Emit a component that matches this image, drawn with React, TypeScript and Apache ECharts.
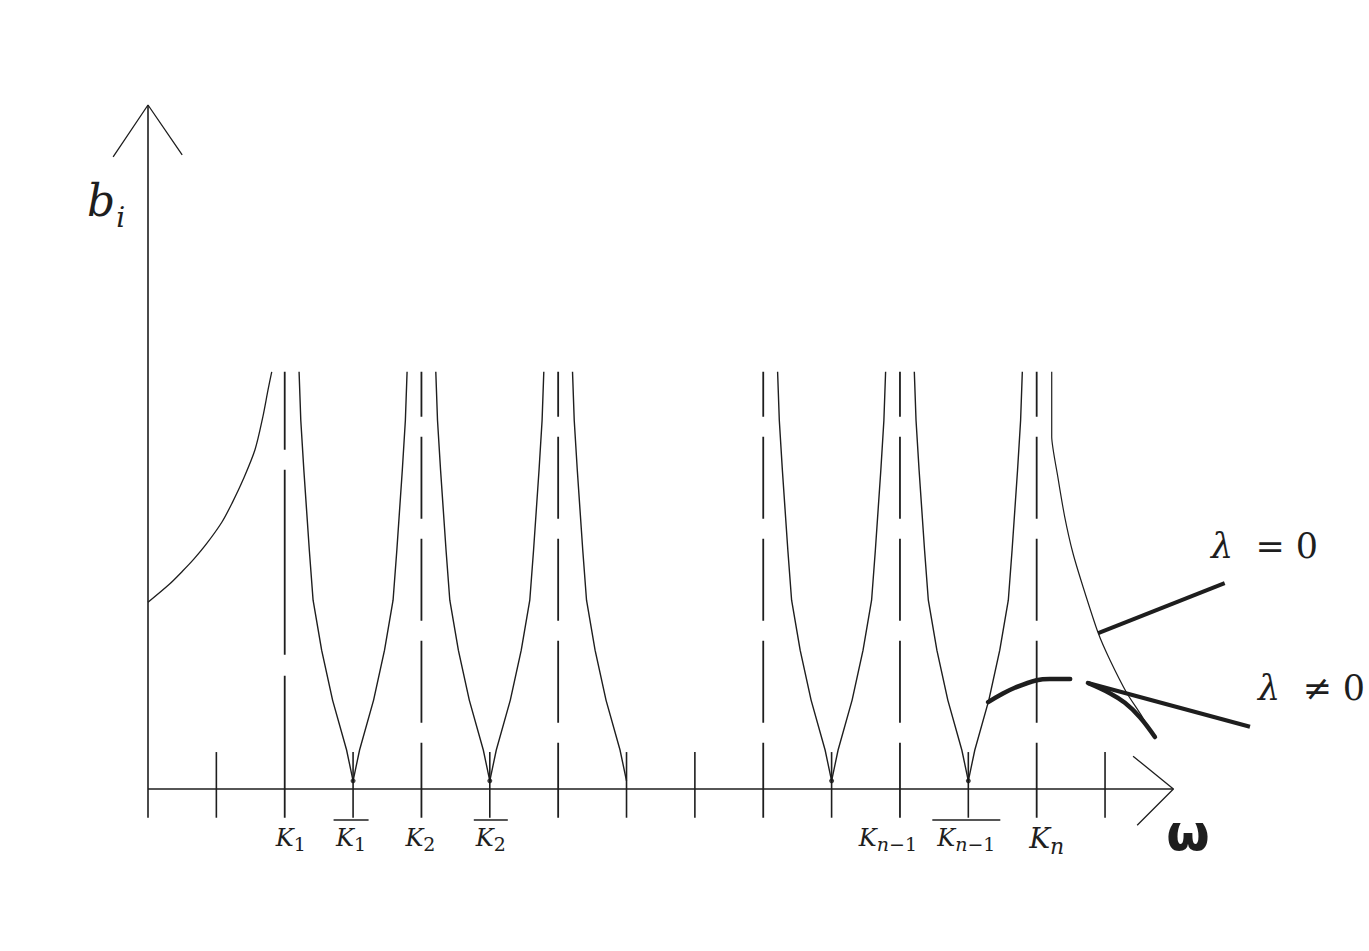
import React, { useEffect, useRef } from "react";
import * as echarts from "echarts";

// ---------- data (in axis units: 1 unit = one tick spacing) ----------
const asymptotes = [2, 4, 6, 9, 11, 13];
const plainTicks = [1, 3, 5, 7, 8, 10, 12, 14];
const cuspBoth = [3, 5, 10, 12];
const cuspLeftOnly = [7];
const cuspDots = [3, 5, 10, 12];
const cuspY = 0.12;
// shape of one cusp branch: heights and horizontal distance from the cusp
const branchHeights = [6.1, 5.39, 4.66, 3.49, 2.76, 2.03, 1.3, 0.57, 0.12];
const branchOffsets = [0.79, 0.765, 0.72, 0.64, 0.585, 0.46, 0.3, 0.095, 0];
const firstBranch = [
  [0, 2.73], [0.32, 3.0], [0.51, 3.19], [0.67, 3.36], [0.86, 3.59], [1.08, 3.9],
  [1.23, 4.18], [1.39, 4.52], [1.565, 4.96], [1.68, 5.44], [1.755, 5.83], [1.81, 6.1],
];
const lastBranch = [
  [13.22, 6.1], [13.22, 5.15], [13.31, 4.56], [13.41, 3.98], [13.53, 3.45], [13.68, 2.95],
  [13.9, 2.28], [14.07, 1.89], [14.32, 1.4], [14.51, 1.11], [14.63, 0.91],
];
const perturbedA = [[12.29, 1.27], [12.46, 1.37], [12.68, 1.48], [13.0, 1.59], [13.19, 1.61], [13.49, 1.61]];
const perturbedB = [[13.75, 1.55], [14.07, 1.4], [14.29, 1.26], [14.51, 1.05], [14.73, 0.76]];
const pointerZero = [[13.9, 2.28], [15.75, 3.01]];
const pointerNonZero = [[13.75, 1.55], [16.12, 0.91]];
const yAxisLine = [[0, 10], [0, -0.42]];
const xAxisLine = [[0, 0], [15, 0]];
const yArrow = [[-0.51, 9.24], [0, 10], [0.5, 9.27]];
const xArrow = [[14.41, 0.48], [15, 0], [14.47, -0.53]];
const tickTop = 0.54;
const tickBottom = -0.42;
const asymTop = 6.1;

// labels
const kLabels = [
  { at: 2, base: "K", subItalic: "", sub: "1", bar: false, big: false },
  { at: 3, base: "K", subItalic: "", sub: "1", bar: true, big: false },
  { at: 4, base: "K", subItalic: "", sub: "2", bar: false, big: false },
  { at: 5, base: "K", subItalic: "", sub: "2", bar: true, big: false },
  { at: 11, base: "K", subItalic: "n", sub: "\u22121", bar: false, big: false },
  { at: 12, base: "K", subItalic: "n", sub: "\u22121", bar: true, big: false },
  { at: 13, base: "K", subItalic: "n", sub: "", bar: false, big: true },
];
const labelShift: Record<number, number> = { 2: 6, 3: -2, 4: -1, 5: 1, 11: -12, 12: -2, 13: 10 };
const barWidth: Record<number, number> = { 3: 35, 5: 34, 12: 68 };

// ---------- layout ----------
const X_MIN = -1, X_MAX = 16.5, Y_MIN = -2, Y_MAX = 10;
const UNIT_X = 68.36;
const G_LEFT = 148 - UNIT_X, G_TOP = 105, G_W = (X_MAX - X_MIN) * UNIT_X, G_H = 820.8;
const W = 1369, H = 951;
const px = (x: number) => G_LEFT + ((x - X_MIN) / (X_MAX - X_MIN)) * G_W;

const INK = "#1e1e1e";
const SERIF = "'DejaVu Serif', 'Liberation Serif', serif";

function line(data: any[], width = 1.6, extra: any = {}) {
  return {
    type: "line",
    data,
    symbol: "none",
    clip: false,
    silent: true,
    smooth: extra.smooth ?? false,
    lineStyle: {
      color: INK,
      width,
      type: extra.dash ?? "solid",
      dashOffset: extra.dashOffset ?? 0,
      cap: extra.cap ?? "butt",
    },
    z: extra.z ?? 2,
  };
}

export default function App() {
  const ref = useRef<HTMLDivElement>(null);
  useEffect(() => {
    if (!ref.current) return;
    const chart = echarts.init(ref.current, undefined, { renderer: "svg" });
    const series: any[] = [];

    series.push(line(yAxisLine));
    series.push(line(xAxisLine));
    series.push(line(yArrow, 1.3));
    series.push(line(xArrow, 1.3));
    plainTicks.forEach((t) => series.push(line([[t, tickTop], [t, tickBottom]])));
    asymptotes.forEach((a) =>
      series.push(
        a === 2
          ? line([[a, asymTop], [a, tickBottom]], 1.8, { dash: [78, 20, 185, 21, 300] })
          : line([[a, asymTop], [a, tickBottom]], 1.8, { dash: [82, 20], dashOffset: 37 })
      )
    );
    const leftBranch = (c: number) => branchHeights.map((h, i) => [c - branchOffsets[i], h]);
    const rightBranch = (c: number) => branchHeights.map((h, i) => [c + branchOffsets[i], h]);
    cuspBoth.forEach((c) => {
      series.push(line(leftBranch(c), 1.4));
      series.push(line(rightBranch(c), 1.4));
    });
    cuspLeftOnly.forEach((c) => series.push(line(leftBranch(c), 1.4)));
    series.push(line(firstBranch, 1.3, { smooth: 0.3 }));
    series.push(line(lastBranch, 1.2, { smooth: 0.2 }));
    series.push(line(perturbedA, 4.5, { smooth: 0.4, cap: "round", z: 4 }));
    series.push(line(perturbedB, 4.5, { smooth: 0.4, cap: "round", z: 4 }));
    series.push(line(pointerZero, 4, { cap: "butt", z: 4 }));
    series.push(line(pointerNonZero, 4, { cap: "butt", z: 4 }));
    series.push({
      type: "scatter",
      data: cuspDots.map((c) => [c, cuspY]),
      symbolSize: 5,
      itemStyle: { color: "#111" },
      silent: true,
      z: 5,
    });

    const graphic: any[] = [];
    kLabels.forEach((L) => {
      const cx = px(L.at) + (labelShift[L.at] || 0);
      let text = "{k|" + L.base + "}";
      if (L.subItalic) text += "{n|" + L.subItalic + "}";
      if (L.sub) text += "{s|" + L.sub + "}";
      const kSize = L.big ? 28 : 24;
      graphic.push({
        type: "text",
        silent: true,
        style: {
          x: cx,
          y: 838,
          text,
          textAlign: "center",
          align: "center",
          textVerticalAlign: "middle",
          verticalAlign: "middle",
          fill: INK,
          rich: {
            k: { fontFamily: SERIF, fontStyle: "italic", fontSize: kSize, lineHeight: kSize, fill: INK },
            n: {
              fontFamily: SERIF,
              fontStyle: "italic",
              fontSize: L.big ? 22 : 19,
              lineHeight: 18,
              padding: [L.big ? 16 : 12, 0, 0, 0],
              fill: INK,
            },
            s: { fontFamily: SERIF, fontSize: 19, lineHeight: 18, padding: [12, 0, 0, 0], fill: INK },
          },
        },
      });
      if (L.bar) {
        const bw = barWidth[L.at];
        graphic.push({
          type: "line",
          silent: true,
          shape: { x1: cx - bw / 2, y1: 820, x2: cx + bw / 2, y2: 820 },
          style: { stroke: INK, lineWidth: 1.6 },
        });
      }
    });
    graphic.push({
      type: "text",
      silent: true,
      style: {
        x: 87,
        y: 200,
        text: "{b|b}{i|i}",
        textAlign: "left",
        align: "left",
        textVerticalAlign: "middle",
        verticalAlign: "middle",
        fill: INK,
        rich: {
          b: { fontFamily: SERIF, fontStyle: "italic", fontSize: 44, lineHeight: 44, fill: INK },
          i: { fontFamily: SERIF, fontStyle: "italic", fontSize: 28, lineHeight: 28, padding: [34, 0, 0, 1], fill: INK },
        },
      },
    });
    graphic.push({
      type: "text",
      silent: true,
      style: {
        x: 1188,
        y: 833,
        text: "\u03c9",
        textAlign: "center",
        align: "center",
        textVerticalAlign: "middle",
        verticalAlign: "middle",
        fontFamily: "'DejaVu Sans', sans-serif",
        fontWeight: "bold",
        fontSize: 50,
        fill: INK,
      },
    });
    const lambdaText = (x: number, y: number, rest: string) => ({
      type: "text",
      silent: true,
      style: {
        x,
        y,
        text: "{l|\u03bb}{t|" + rest + "}",
        textAlign: "left",
        align: "left",
        textVerticalAlign: "middle",
        verticalAlign: "middle",
        fill: INK,
        rich: {
          l: { fontFamily: SERIF, fontStyle: "italic", fontSize: 35, lineHeight: 36, fill: INK },
          t: { fontFamily: SERIF, fontSize: 35, lineHeight: 36, fill: INK },
        },
      },
    });
    graphic.push(lambdaText(1211, 546, "  = 0"));
    graphic.push(lambdaText(1258, 688, "  \u2260 0"));

    chart.setOption({
      animation: false,
      backgroundColor: "#ffffff",
      grid: { left: G_LEFT, top: G_TOP, width: G_W, height: G_H },
      xAxis: { type: "value", min: X_MIN, max: X_MAX, show: false },
      yAxis: { type: "value", min: Y_MIN, max: Y_MAX, show: false },
      series,
      graphic,
    });
    return () => chart.dispose();
  }, []);
  return (
    <div
      ref={ref}
      style={{ position: "absolute", left: 0, top: 0, width: W, height: H, background: "#fff" }}
    />
  );
}
